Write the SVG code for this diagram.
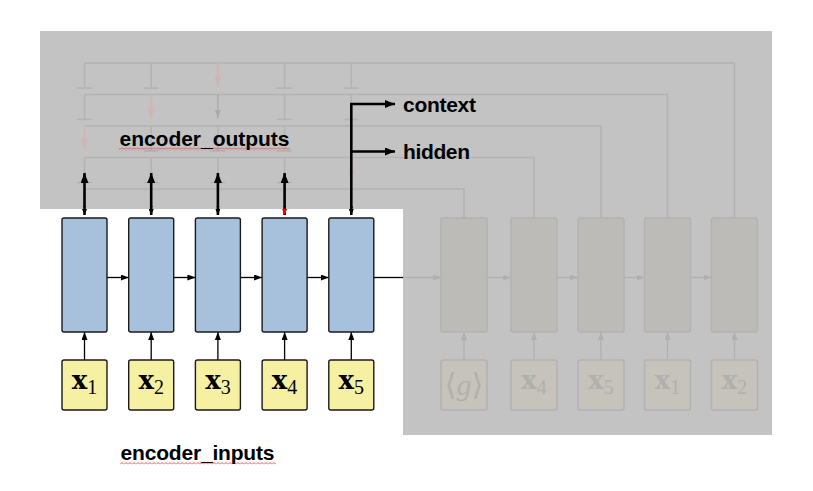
<svg xmlns="http://www.w3.org/2000/svg" width="813" height="491" viewBox="0 0 813 491">
<style>
.lbl{font-family:"Liberation Sans",Arial,sans-serif;font-weight:bold;font-size:21px;fill:#000}
.gl{stroke:#b3b3b3;stroke-width:1.5;fill:none}
.enc{fill:#a7c0dc;stroke:#1a1a1a;stroke-width:1.4}
.inp{fill:#f6f1a2;stroke:#1a1a1a;stroke-width:1.4}
.dec{fill:#bdbbb8;stroke:#b2b2b2;stroke-width:1.5}
.dinp{fill:#c5c3bb;stroke:#b2b2b2;stroke-width:1.5}
.bx{font-family:"DejaVu Serif",serif;font-weight:bold;font-size:26px}
.sub{font-family:"Liberation Serif",serif;font-weight:normal;font-size:20px}
.blk{stroke:#000;stroke-width:1.3;fill:none}
.thick{stroke:#000;stroke-width:2.6;fill:none}
</style>
<defs>
<marker id="ah" viewBox="0 0 8 6" refX="8" refY="3" markerWidth="8" markerHeight="6" markerUnits="userSpaceOnUse" orient="auto"><path d="M0,0 L8,3 L0,6 z" fill="#000"/></marker>
<marker id="ahg" viewBox="0 0 8 6" refX="8" refY="3" markerWidth="8" markerHeight="6" markerUnits="userSpaceOnUse" orient="auto"><path d="M0,0 L8,3 L0,6 z" fill="#b0b0b0"/></marker>
<marker id="ahp" viewBox="0 0 11 7" refX="11" refY="3.5" markerWidth="11" markerHeight="7" markerUnits="userSpaceOnUse" orient="auto"><path d="M0,0 L11,3.5 L0,7 z" fill="#d2b4b4"/></marker>
<marker id="ahd" viewBox="0 0 9 6" refX="9" refY="3" markerWidth="9" markerHeight="6" markerUnits="userSpaceOnUse" orient="auto"><path d="M0,0 L9,3 L0,6 z" fill="#a9a9a9"/></marker>
<marker id="ahb" viewBox="0 0 10 8" refX="10" refY="4" markerWidth="10" markerHeight="8" markerUnits="userSpaceOnUse" orient="auto"><path d="M0,0 L10,4 L0,8 z" fill="#000"/></marker>
<marker id="ahs" viewBox="0 0 6 5" refX="6" refY="2.5" markerWidth="6" markerHeight="5" markerUnits="userSpaceOnUse" orient="auto"><path d="M0,0 L6,2.5 L0,5 z" fill="#000"/></marker>
<marker id="ahr" viewBox="0 0 6 5" refX="6" refY="2.5" markerWidth="6" markerHeight="5" markerUnits="userSpaceOnUse" orient="auto"><path d="M0,0 L6,2.5 L0,5 z" fill="#ff0000"/></marker>
<pattern id="sq" width="4" height="3" patternUnits="userSpaceOnUse"><path d="M0,2.5 L2,0.5 L4,2.5" stroke="#e04040" stroke-width="0.9" fill="none"/></pattern>
</defs>
<rect width="813" height="491" fill="#fff"/>
<path d="M40,31 H772 V435 H403 V209 H40 Z" fill="#c3c3c3"/>

<g id="connectors">
  <g class="gl">
    <path d="M84.5,63 H734.5 V218"/>
    <path d="M84.5,94.5 H667.5 V218"/>
    <path d="M84.5,126 H601 V218"/>
    <path d="M84.5,157.5 H534 V218"/>
    <path d="M84.5,189 H464 V218"/>
    <path d="M84.5,63 V88 M77,88 H92"/>
    <path d="M151.2,63 V88 M144,88 H158.5"/>
    <path d="M284.6,63 V88 M277,88 H292"/>
    <path d="M351.3,63 V88 M344,88 H358.5"/>
    <path d="M84.5,94.5 V119.5 M77,119.5 H92"/>
    <path d="M284.6,94.5 V119.5 M277,119.5 H292"/>
    <path d="M351.3,94.5 V119.5 M344,119.5 H358.5"/>
    <path d="M151.2,126 V151 M144,151 H158.5"/>
    <path d="M217.9,126 V151 M210.5,151 H225"/>
    <path d="M284.6,126 V151 M277,151 H292"/>
    <path d="M84.5,157.5 V182.5 M77,182.5 H92"/>
    <path d="M151.2,157.5 V182.5 M144,182.5 H158.5"/>
    <path d="M217.9,157.5 V182.5 M210.5,182.5 H225"/>
    <path d="M284.6,157.5 V182.5 M277,182.5 H292"/>
    <path d="M84.5,189 V209 M151.2,189 V209 M217.9,189 V209 M284.6,189 V209 M351.3,189 V209"/>
  </g>
  <path d="M217.9,63 V87" stroke="#d2b4b4" stroke-width="2" marker-end="url(#ahp)"/>
  <path d="M151.2,94.5 V118.5" stroke="#d2b4b4" stroke-width="2" marker-end="url(#ahp)"/>
  <path d="M217.9,94.5 V118.5" stroke="#ababab" stroke-width="1.5" marker-end="url(#ahd)"/>
  <path d="M84.5,126 V150" stroke="#d2b4b4" stroke-width="2" marker-end="url(#ahp)"/>
  <path d="M351.3,157.5 V181.5" stroke="#d2b4b4" stroke-width="2" marker-end="url(#ahp)"/>

  <path class="blk" d="M107,277.5 H128.7" marker-end="url(#ah)"/>
  <path class="blk" d="M173.7,277.5 H195.4" marker-end="url(#ah)"/>
  <path class="blk" d="M240.4,277.5 H262.1" marker-end="url(#ah)"/>
  <path class="blk" d="M307.1,277.5 H328.8" marker-end="url(#ah)"/>
  <path class="blk" d="M373.8,277.5 H403"/>
  <path d="M403,277.5 H441" stroke="#b0b0b0" stroke-width="1.3" marker-end="url(#ahg)"/>
  <path class="blk" d="M84.5,360 V332" marker-end="url(#ah)"/>
  <path class="blk" d="M151.2,360 V332" marker-end="url(#ah)"/>
  <path class="blk" d="M217.9,360 V332" marker-end="url(#ah)"/>
  <path class="blk" d="M284.6,360 V332" marker-end="url(#ah)"/>
  <path class="blk" d="M351.3,360 V332" marker-end="url(#ah)"/>
  <g stroke="#b0b0b0" stroke-width="1.3" fill="none">
    <path d="M487,277.5 H511" marker-end="url(#ahg)"/>
    <path d="M557,277.5 H578" marker-end="url(#ahg)"/>
    <path d="M624,277.5 H644.5" marker-end="url(#ahg)"/>
    <path d="M690.5,277.5 H711.5" marker-end="url(#ahg)"/>
    <path d="M464,360 V332" marker-end="url(#ahg)"/>
    <path d="M534,360 V332" marker-end="url(#ahg)"/>
    <path d="M601,360 V332" marker-end="url(#ahg)"/>
    <path d="M667.5,360 V332" marker-end="url(#ahg)"/>
    <path d="M734.5,360 V332" marker-end="url(#ahg)"/>
  </g>
  <path class="thick" d="M84.5,207 V173" marker-end="url(#ahb)"/>
  <path class="thick" d="M151.2,207 V173" marker-end="url(#ahb)"/>
  <path class="thick" d="M217.9,207 V173" marker-end="url(#ahb)"/>
  <path class="thick" d="M284.6,207 V173" marker-end="url(#ahb)"/>
  <path d="M84.5,206 V215" stroke="#000" stroke-width="2.6" marker-end="url(#ahs)"/>
  <path d="M151.2,206 V215" stroke="#000" stroke-width="2.6" marker-end="url(#ahs)"/>
  <path d="M217.9,206 V215" stroke="#000" stroke-width="2.6" marker-end="url(#ahs)"/>
  <path d="M284.6,206 V215" stroke="#000" stroke-width="2.6" marker-end="url(#ahr)"/>
  <path d="M351.3,206 V215" stroke="#000" stroke-width="2.6" marker-end="url(#ahs)"/>
  <path class="thick" d="M351.3,208 V104 H395" marker-end="url(#ahb)"/>
  <path class="thick" d="M351.3,151.5 H395" marker-end="url(#ahb)"/>
</g>

<g id="enc1"><rect class="enc" x="62" y="218" width="45" height="114" rx="2"/></g>
<g id="enc2"><rect class="enc" x="128.7" y="218" width="45" height="114" rx="2"/></g>
<g id="enc3"><rect class="enc" x="195.4" y="218" width="45" height="114" rx="2"/></g>
<g id="enc4"><rect class="enc" x="262.1" y="218" width="45" height="114" rx="2"/></g>
<g id="enc5"><rect class="enc" x="328.8" y="218" width="45" height="114" rx="2"/></g>

<g id="in1"><rect class="inp" x="62" y="360" width="45" height="50" rx="2"/><text x="84.5" y="389" text-anchor="middle" fill="#000"><tspan class="bx">x</tspan><tspan class="sub" dy="5">1</tspan></text></g>
<g id="in2"><rect class="inp" x="128.7" y="360" width="45" height="50" rx="2"/><text x="151.2" y="389" text-anchor="middle" fill="#000"><tspan class="bx">x</tspan><tspan class="sub" dy="5">2</tspan></text></g>
<g id="in3"><rect class="inp" x="195.4" y="360" width="45" height="50" rx="2"/><text x="217.9" y="389" text-anchor="middle" fill="#000"><tspan class="bx">x</tspan><tspan class="sub" dy="5">3</tspan></text></g>
<g id="in4"><rect class="inp" x="262.1" y="360" width="45" height="50" rx="2"/><text x="284.6" y="389" text-anchor="middle" fill="#000"><tspan class="bx">x</tspan><tspan class="sub" dy="5">4</tspan></text></g>
<g id="in5"><rect class="inp" x="328.8" y="360" width="45" height="50" rx="2"/><text x="351.3" y="389" text-anchor="middle" fill="#000"><tspan class="bx">x</tspan><tspan class="sub" dy="5">5</tspan></text></g>

<g id="dec1"><rect class="dec" x="441" y="218" width="46" height="114" rx="2"/></g>
<g id="dec2"><rect class="dec" x="511" y="218" width="46" height="114" rx="2"/></g>
<g id="dec3"><rect class="dec" x="578" y="218" width="46" height="114" rx="2"/></g>
<g id="dec4"><rect class="dec" x="644.5" y="218" width="46" height="114" rx="2"/></g>
<g id="dec5"><rect class="dec" x="711.5" y="218" width="46" height="114" rx="2"/></g>

<g id="din1"><rect class="dinp" x="441" y="360" width="46" height="50" rx="2"/><text x="464" y="395" text-anchor="middle" fill="#b1b0ad" font-family="DejaVu Serif,serif" font-size="30">⟨<tspan font-family="Liberation Serif,serif" font-style="italic">g</tspan>⟩</text></g>
<g id="din2"><rect class="dinp" x="511" y="360" width="46" height="50" rx="2"/><text x="534" y="389" text-anchor="middle" fill="#b1b0ad"><tspan class="bx">x</tspan><tspan class="sub" dy="5">4</tspan></text></g>
<g id="din3"><rect class="dinp" x="578" y="360" width="46" height="50" rx="2"/><text x="601" y="389" text-anchor="middle" fill="#b1b0ad"><tspan class="bx">x</tspan><tspan class="sub" dy="5">5</tspan></text></g>
<g id="din4"><rect class="dinp" x="644.5" y="360" width="46" height="50" rx="2"/><text x="667.5" y="389" text-anchor="middle" fill="#b1b0ad"><tspan class="bx">x</tspan><tspan class="sub" dy="5">1</tspan></text></g>
<g id="din5"><rect class="dinp" x="711.5" y="360" width="46" height="50" rx="2"/><text x="734.5" y="389" text-anchor="middle" fill="#b1b0ad"><tspan class="bx">x</tspan><tspan class="sub" dy="5">2</tspan></text></g>

<g id="labels">
  <rect x="119" y="147.5" width="171" height="3" fill="url(#sq)"/>
  <text class="lbl" x="119.5" y="146" textLength="170">encoder_outputs</text>
  <rect x="120" y="461.5" width="156" height="3" fill="url(#sq)"/>
  <text class="lbl" x="120.5" y="460" textLength="154">encoder_inputs</text>
  <text class="lbl" x="403" y="112" textLength="73">context</text>
  <text class="lbl" x="403" y="159" textLength="67">hidden</text>
</g>
</svg>
